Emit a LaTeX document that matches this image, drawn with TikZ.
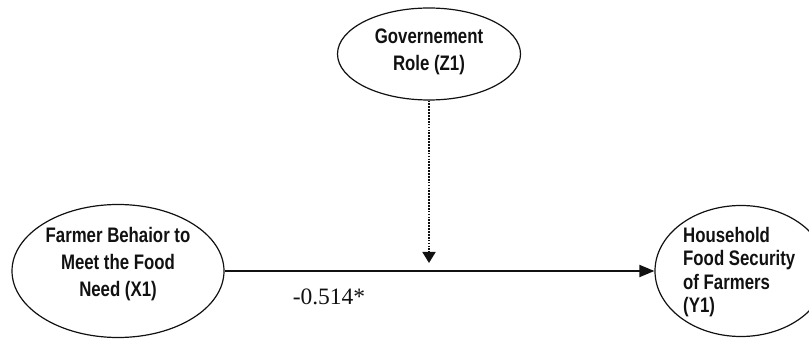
\documentclass[tikz,border=0pt]{standalone}
\usepackage{fontspec}
\usepackage{tikz}
\usetikzlibrary{positioning,arrows.meta,shapes.geometric,calc}
\newfontfamily\varfont[FakeStretch=0.8]{Liberation Sans}
\newfontfamily\coeffont{Liberation Serif}
\definecolor{ink}{HTML}{111111}
\tikzset{
  var/.style={ellipse,draw=ink,line width=1.2pt,inner sep=0pt},
  vtxt/.style={font=\varfont\bfseries\fontsize{21}{27}\selectfont,text=ink,inner sep=0pt},
  path/.style={-{Triangle[length=15pt,width=12pt]},line width=1.8pt,draw=ink},
  moder/.style={-{Triangle[length=11pt,width=13pt]},line width=1.7pt,draw=ink,
    dash pattern=on 1.7pt off 1.2pt},
  coef/.style={font=\coeffont\fontsize{23.5}{26}\selectfont,text=ink,inner sep=0pt},
}
\begin{document}
\begin{tikzpicture}[x=1pt,y=-1pt]
  \useasboundingbox (0,0) rectangle (809,339);
  % latent variables
  \node[var,minimum width=183pt,minimum height=92pt] (gov) at (429,54) {};
  \node[var,minimum width=212pt,minimum height=133pt] (farmer) at (118,271) {};
  \node[var,minimum width=172pt,minimum height=131pt] (house) at (741,271) {};
  \node[vtxt,align=center] (govtxt) at (429,52) {Governement\\Role (Z1)};
  \node[vtxt,align=center] (farmertxt) at (118,264) {Farmer Behaior to\\Meet the Food\\Need (X1)};
  \node[vtxt,align=left,anchor=west,font=\varfont\bfseries\fontsize{21}{23.4}\selectfont]
    (housetxt) at (683,272) {Household\\Food Security\\of Farmers\\(Y1)};
  % paths
  \coordinate (hit) at (429,263);
  \draw[path] (farmer) -- (house);
  \draw[moder] (gov) -- (hit);
  \node[coef] (b1) at (329,297) {-0.514*};
\end{tikzpicture}
\end{document}
